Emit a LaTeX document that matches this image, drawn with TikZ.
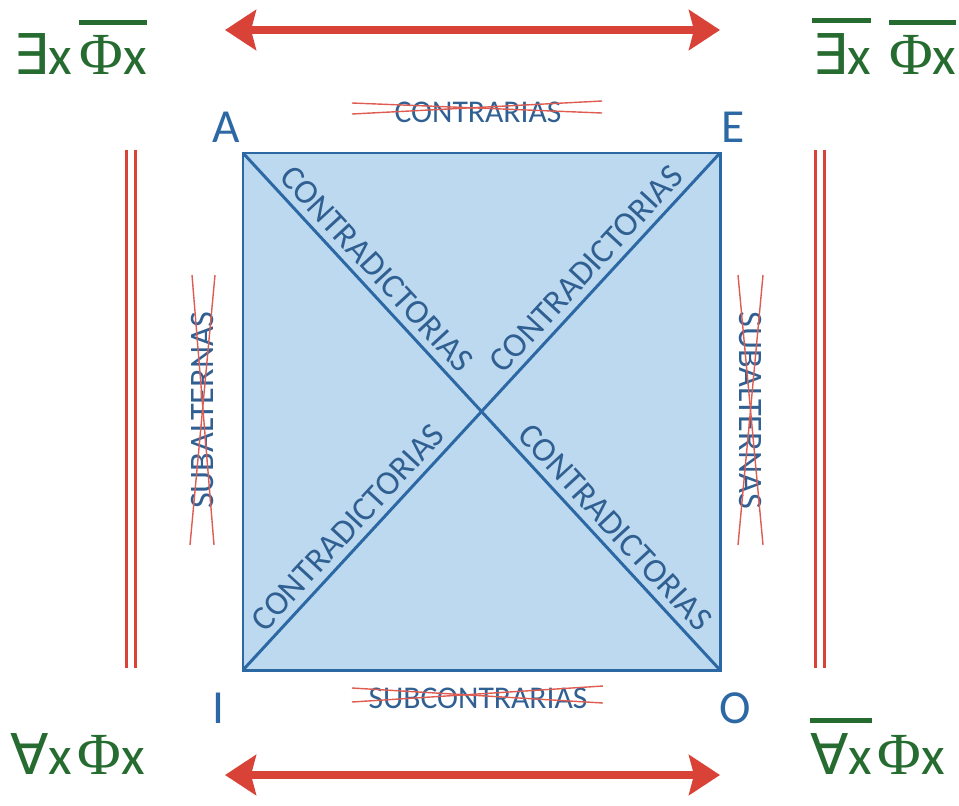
\documentclass[tikz,border=0pt]{standalone}
\usepackage{fontspec}
\setmainfont{Carlito}
\newfontfamily\symfont{DejaVu Sans}
\newfontfamily\phifont{Liberation Serif}
\usetikzlibrary{arrows.meta,calc}

\definecolor{arrowred}{RGB}{217,67,55}
\definecolor{strikered}{RGB}{222,92,82}
\definecolor{edgeblue}{RGB}{44,104,164}
\definecolor{fillblue}{RGB}{189,217,240}
\definecolor{textblue}{RGB}{48,96,146}
\definecolor{formgreen}{RGB}{38,108,48}

\newcommand\negbar[1]{\vbox{\hrule height 2.8pt\kern 5.5pt\hbox{#1}}}
\newcommand\qex{{\symfont\fontsize{32}{32}\selectfont ∃}}
\newcommand\qall{{\symfont\fontsize{32}{32}\selectfont ∀}}
\newcommand\varx{{\fontsize{31}{31}\selectfont x}}
\newcommand\phisym{{\phifont\fontsize{34}{34}\selectfont Φ}}

\tikzset{
	sqline/.style={draw=edgeblue,line width=1.7pt},
	vertex/.style={text=edgeblue,font=\fontsize{27}{27}\selectfont,inner sep=0pt},
	diaglabel/.style={sloped,above,inner sep=4pt,text=textblue,font=\fontsize{19.5}{20}\selectfont},
	rellabel/.style={text=textblue,inner sep=0pt,font=\fontsize{18}{18}\selectfont},
	strike/.style={draw=strikered,line width=0.8pt},
	bigarrow/.style={draw=arrowred,line width=4.5pt,{Stealth[length=0.62cm,width=0.8cm,inset=0.1cm]}-{Stealth[length=0.62cm,width=0.8cm,inset=0.1cm]}},
	subline/.style={draw=arrowred,line width=1.8pt,double=white,double distance=3pt},
	formula/.style={text=formgreen,anchor=base west,inner sep=0pt}
}

\begin{document}
\begin{tikzpicture}[x=0.02cm,y=-0.02cm]
	\useasboundingbox (0,0) rectangle (959,805);

	\coordinate (A) at (243,153);
	\coordinate (E) at (720,153);
	\coordinate (O) at (720,670);
	\coordinate (I) at (243,670);

	\fill[fillblue] (A) -- (E) -- (O) -- (I) -- cycle;
	\draw[sqline] (A) -- (E) -- (O) -- (I) -- cycle;
	\draw[sqline] (A) -- node[diaglabel,pos=0.25]{CONTRADICTORIAS} node[diaglabel,pos=0.75]{CONTRADICTORIAS} (O);
	\draw[sqline] (I) -- node[diaglabel,pos=0.25]{CONTRADICTORIAS} node[diaglabel,pos=0.75]{CONTRADICTORIAS} (E);

	\node[vertex] (lA) at (226,127) {A};
	\node[vertex] (lE) at (733,127) {E};
	\node[vertex] (lI) at (218,708) {I};
	\node[vertex] (lO) at (735,708) {O};

	\node[rellabel] (contr) at (478,112) {CONTRARIAS};
	\node[rellabel] (subcontr) at (478,698) {SUBCONTRARIAS};
	\node[rellabel,font=\fontsize{19.5}{20}\selectfont,rotate=90] (subL) at (203,410) {SUBALTERNAS};
	\node[rellabel,font=\fontsize{19.5}{20}\selectfont,rotate=-90] (subR) at (750,410) {SUBALTERNAS};

	\draw[strike] (352,103) -- (602,113);
	\draw[strike] (352,114) -- (602,101);
	\draw[strike] (352,688) -- (603,703);
	\draw[strike] (352,702) -- (603,686);
	\draw[strike] (192,275) -- (214,545);
	\draw[strike] (215,275) -- (190,545);
	\draw[strike] (738,275) -- (763,545);
	\draw[strike] (763,275) -- (738,545);

	\draw[subline] (131,150) -- (131,668);
	\draw[subline] (820,150) -- (820,668);

	\coordinate (topL) at (225,30);
	\coordinate (topR) at (720,30);
	\coordinate (botL) at (225,775);
	\coordinate (botR) at (720,775);
	\draw[bigarrow] (topL) -- (topR);
	\draw[bigarrow] (botL) -- (botR);

	\node[formula] (fA) at (13,74) {\qex\varx\kern4pt\negbar{\phisym\varx}};
	\node[formula] (fE) at (812,74) {\negbar{\vphantom{\phisym}\qex\varx}\kern10pt\negbar{\phisym\varx}};
	\node[formula] (fI) at (10,774) {\qall\varx\kern3pt\phisym\varx};
	\node[formula] (fO) at (810,774) {\negbar{\vphantom{\phisym}\qall\varx}\kern3pt\phisym\varx};
\end{tikzpicture}
\end{document}
